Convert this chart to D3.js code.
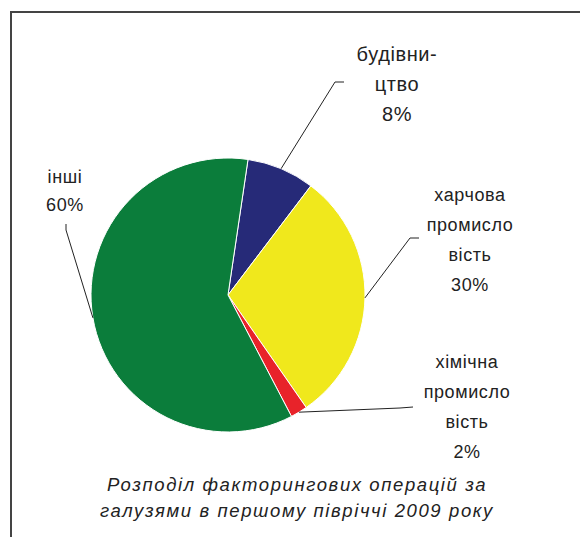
<!DOCTYPE html>
<html>
<head>
<meta charset="utf-8">
<script src="https://cdn.jsdelivr.net/npm/d3@7"></script>
<style>
  body { margin: 0; background: #fff; }
  svg text { font-family: "Liberation Sans", Arial, sans-serif; fill: #222; }
</style>
</head>
<body>
<svg id="chart" width="580" height="537"></svg>
<script>
// data
const categories = ["будівництво", "харчова промисловість", "хімічна промисловість", "інші"];
const shares = [8, 30, 2, 60];
const labelLines = [
  ["будівни-", "цтво", "8%"],
  ["харчова", "промисло", "вість", "30%"],
  ["хімічна", "промисло", "вість", "2%"],
  ["інші", "60%"]
];
const colors = ["#262a78", "#f0e81c", "#e8232a", "#0b7d3b"];
const titleLines = ["Розподіл факторингових операцій за", "галузями в першому півріччі 2009 року"];

const svg = d3.select("#chart");

// frame (only left and top edges are visible)
svg.append("path")
  .attr("d", "M11,537 L11,12 L580,12")
  .attr("fill", "none")
  .attr("stroke", "#444")
  .attr("stroke-width", 2);

const cx = 228, cy = 295, r = 137;
const start = 8.4 * Math.PI / 180;

let pie = d3.pie()
  .sort(null)
  .value(d => d)
  .startAngle(start)
  .endAngle(start + 2 * Math.PI);

let arc = d3.arc().innerRadius(0).outerRadius(r);
let edge = d3.arc().innerRadius(r).outerRadius(r);

let arcs = pie(shares);

let g = svg.append("g").attr("transform", "translate(" + cx + "," + cy + ")");

g.selectAll("path.slice")
  .data(arcs)
  .enter().append("path")
  .attr("class", "slice")
  .attr("d", arc)
  .attr("fill", (d, i) => colors[i])
  .attr("stroke", "#fff")
  .attr("stroke-width", 1);

// label placement: leader elbow, leader end, text centre x, first baseline y, size, gap
const labelPos = [
  { elbow: [335, 82], end: [344, 82], x: 397, y: 61, size: 20, gap: 30 },
  { elbow: [410, 238], end: [419, 238], x: 470, y: 201, size: 18, gap: 30 },
  { elbow: [400, 408], end: [413, 407], x: 467, y: 368, size: 18, gap: 30 },
  { elbow: [66, 230], end: [66, 224], x: 65, y: 183, size: 18, gap: 28 }
];

arcs.forEach((d, i) => {
  let p = edge.centroid(d);
  let lp = labelPos[i];
  svg.append("polyline")
    .attr("points", [[p[0] + cx, p[1] + cy], lp.elbow, lp.end].map(q => q.join(",")).join(" "))
    .attr("fill", "none")
    .attr("stroke", "#222")
    .attr("stroke-width", 1);

  let t = svg.append("text")
    .attr("text-anchor", "middle")
    .attr("font-size", lp.size)
    .attr("letter-spacing", 0.6);
  labelLines[i].forEach((s, k) => {
    t.append("tspan")
      .attr("x", lp.x)
      .attr("y", lp.y + k * lp.gap)
      .text(s);
  });
});

// caption
let cap = svg.append("text")
  .attr("text-anchor", "middle")
  .attr("font-size", 18.5)
  .attr("font-style", "italic")
  .attr("letter-spacing", 1.6);
titleLines.forEach((s, k) => {
  cap.append("tspan").attr("x", 297).attr("y", 491 + k * 26).text(s);
});
</script>
</body>
</html>
